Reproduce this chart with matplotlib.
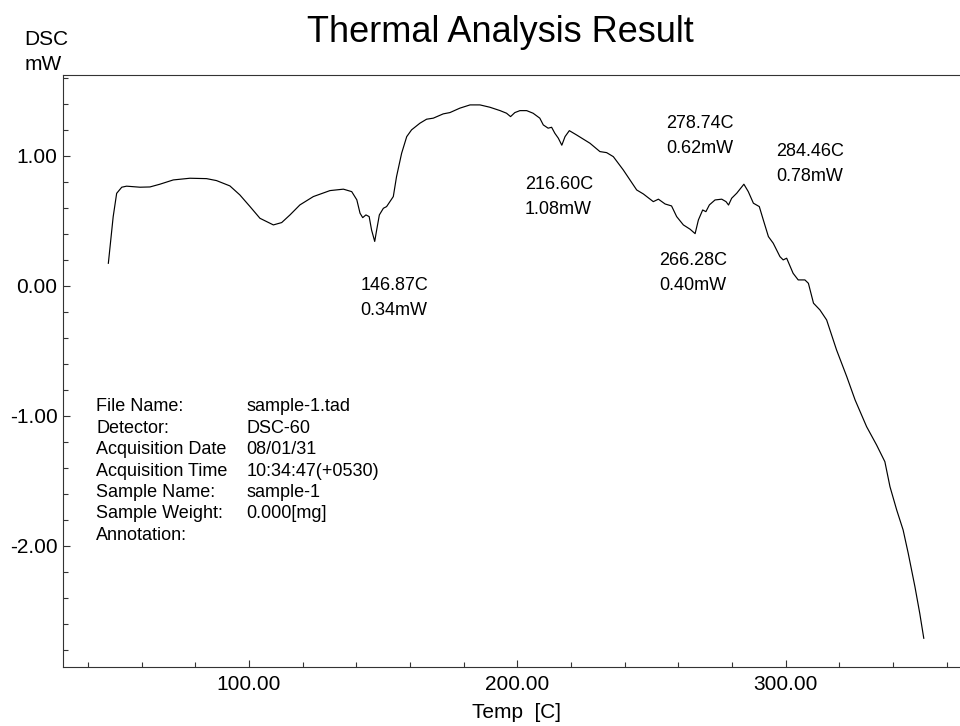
import matplotlib
matplotlib.use("Agg")
import matplotlib.pyplot as plt
from matplotlib.ticker import MultipleLocator, FormatStrFormatter

plt.rcParams['font.family'] = ['Liberation Sans', 'DejaVu Sans']

# DSC trace: temperature [C] and heat flow [mW]
temp = [
    47.6, 49.4, 50.7, 52.6, 54.4, 59.4, 63.1, 66.8, 71.8, 78.0,
    84.2, 87.9, 92.9, 96.6, 100.4, 104.1, 109.1, 112.2, 115.3, 119.0,
    124.0, 130.2, 135.2, 138.3, 140.2, 141.4, 142.4, 143.6, 144.8, 145.7,
    146.87, 147.6, 148.6, 150.1, 151.3, 153.8, 155.0, 156.9, 158.8, 160.6,
    163.7, 166.2, 168.7, 172.4, 174.9, 178.6, 182.4, 186.1, 189.8, 193.6,
    196.0, 197.5, 199.1, 201.0, 203.5, 205.9, 208.4, 209.7, 211.5, 212.8,
    214.0, 215.3, 216.6, 217.8, 219.4, 222.1, 227.1, 230.8, 233.3, 235.8,
    239.5, 244.5, 247.0, 250.7, 252.6, 255.1, 257.5, 259.4, 261.9, 264.4,
    266.28, 267.5, 269.1, 270.3, 271.6, 273.7, 276.2, 277.8, 278.74, 279.9,
    281.8, 284.46, 286.1, 288.0, 290.2, 291.7, 293.6, 295.4, 297.9, 299.1,
    300.4, 302.8, 304.7, 307.2, 308.5, 310.4, 312.8, 315.3, 319.0, 322.8,
    325.9, 330.2, 333.9, 337.0, 338.9, 341.4, 343.8, 345.7, 348.2, 350.0,
    351.5,
]
dsc = [
    0.172, 0.53, 0.71, 0.757, 0.765, 0.757, 0.759, 0.78, 0.813, 0.826,
    0.823, 0.808, 0.767, 0.698, 0.608, 0.518, 0.467, 0.485, 0.544, 0.621,
    0.685, 0.731, 0.742, 0.723, 0.66, 0.557, 0.523, 0.544, 0.531, 0.428,
    0.34, 0.428, 0.544, 0.595, 0.608, 0.685, 0.838, 1.018, 1.146, 1.198,
    1.249, 1.28, 1.288, 1.321, 1.331, 1.365, 1.39, 1.39, 1.372, 1.346,
    1.326, 1.30, 1.331, 1.346, 1.346, 1.326, 1.288, 1.236, 1.211, 1.218,
    1.172, 1.134, 1.08, 1.146, 1.192, 1.159, 1.095, 1.031, 1.023, 0.992,
    0.89, 0.736, 0.705, 0.646, 0.665, 0.628, 0.613, 0.531, 0.467, 0.434,
    0.40, 0.505, 0.582, 0.569, 0.621, 0.659, 0.665, 0.646, 0.62, 0.672,
    0.711, 0.78, 0.723, 0.634, 0.608, 0.505, 0.377, 0.326, 0.223, 0.198,
    0.211, 0.095, 0.044, 0.044, 0.018, -0.135, -0.187, -0.264, -0.495, -0.7,
    -0.879, -1.085, -1.225, -1.354, -1.546, -1.725, -1.879, -2.058, -2.315, -2.52,
    -2.712,
]

# Detected peaks
peak_temp = [146.87, 216.60, 266.28, 278.74, 284.46]
peak_dsc = [0.34, 1.08, 0.40, 0.62, 0.78]
# label offsets (pixels) of the first text line from each peak
peak_offsets = [(-14, -44), (-37, -39), (-36, -27), (-62, 82), (32, 33)]

info_keys = ["File Name:", "Detector:", "Acquisition Date", "Acquisition Time",
             "Sample Name:", "Sample Weight:", "Annotation:"]
info_vals = ["sample-1.tad", "DSC-60", "08/01/31", "10:34:47(+0530)",
             "sample-1", "0.000[mg]", ""]

W, H = 960, 726
fig = plt.figure(figsize=(W / 100, H / 100), dpi=100)
ax = fig.add_axes([63 / W, 1 - 667 / H, (W - 63) / W, (667 - 75) / H])

ax.plot(temp, dsc, color='black', lw=0.85)

ax.set_xlim(30.7, 365.0)
ax.set_ylim(-2.933, 1.62)

ax.xaxis.set_major_locator(MultipleLocator(100))
ax.xaxis.set_minor_locator(MultipleLocator(20))
ax.yaxis.set_major_locator(MultipleLocator(1))
ax.yaxis.set_minor_locator(MultipleLocator(0.2))
ax.xaxis.set_major_formatter(FormatStrFormatter('%.2f'))
ax.yaxis.set_major_formatter(FormatStrFormatter('%.2f'))

ax.spines['right'].set_visible(False)
for s in ('left', 'top', 'bottom'):
    ax.spines[s].set_color('#333333')
    ax.spines[s].set_linewidth(0.8)

ax.tick_params(which='both', direction='in', color='#333333', width=0.8,
               labelsize=15, top=False, right=False)
ax.tick_params(which='major', length=5)
ax.tick_params(which='minor', length=3.5)
ax.tick_params(axis='y', pad=4)
ax.tick_params(axis='x', pad=6)

# peak annotations
for t, v, (dx, dy) in zip(peak_temp, peak_dsc, peak_offsets):
    ax.annotate(f"{t:.2f}C", xy=(t, v), xytext=(dx, dy), textcoords='offset pixels',
                ha='left', va='center', fontsize=13)
    ax.annotate(f"{v:.2f}mW", xy=(t, v), xytext=(dx, dy - 25), textcoords='offset pixels',
                ha='left', va='center', fontsize=13)

# measurement info block
row_y0, row_step = 407, 21.4
for i, (k, val) in enumerate(zip(info_keys, info_vals)):
    y = 1 - (row_y0 + i * row_step) / H
    fig.text(96 / W, y, k, ha='left', va='center', fontsize=13)
    if val:
        fig.text(246.7 / W, y, val, ha='left', va='center', fontsize=13)

# titles and axis labels
fig.text(500 / W, 1 - 41.7 / H, "Thermal Analysis Result", ha='center',
         va='baseline', fontsize=26)
fig.text(24 / W, 1 - 45 / H, "DSC", ha='left', va='baseline', fontsize=15)
fig.text(25 / W, 1 - 70 / H, "mW", ha='left', va='baseline', fontsize=15)
fig.text(517 / W, 1 - 712.7 / H, "Temp  [C]", ha='center', va='center', fontsize=15)

fig.savefig("out.png", dpi=100)
